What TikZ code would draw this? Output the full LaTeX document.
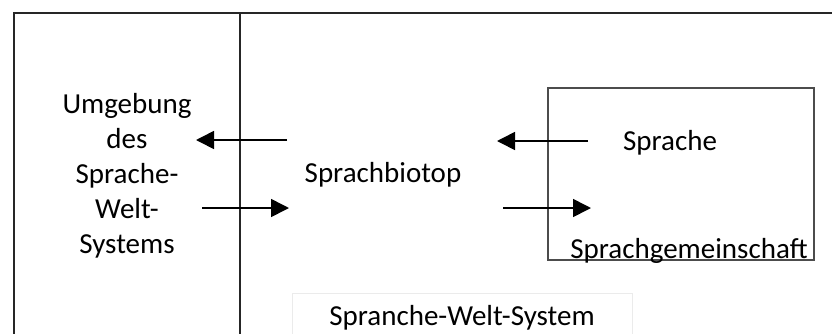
\documentclass[tikz,border=0pt]{standalone}
\usepackage{fontspec}
\setmainfont{Carlito}
\usetikzlibrary{arrows.meta}
\tikzset{
  lbl/.style={font=\fontsize{29}{35}\selectfont,inner sep=0pt,align=center},
  arr/.style={line width=1.6pt,-{Triangle[length=18pt,width=18pt]}},
  frame/.style={draw=black!85,line width=1.2pt}
}
\begin{document}
\begin{tikzpicture}[x=1pt,y=-1pt]
  \useasboundingbox(0,0)rectangle(832,333);
  \clip(0,0)rectangle(832,333);
  % outer system and divider
  \draw[frame](14,13)rectangle(850,350);
  \draw[frame](240,13)--(240,350);
  % community box
  \draw[frame,draw=black!70](548,88)rectangle(814,260);
  \draw[draw=black!8,line width=1pt](292,293)rectangle(632,350);
  \node[lbl](umg)at(127,176){Umgebung\\des\\Sprache-\\Welt-\\Systems};
  \node[lbl](bio)at(383,175){Sprachbiotop};
  \node[lbl](spr)at(670,143){Sprache};
  \node[lbl,anchor=base](gem)at(689,258){Sprachgemeinschaft};
  \node[lbl,anchor=base](sys)at(462,325){Spranche-Welt-System};
  \coordinate(a1)at(287,140); \coordinate(a2)at(196,140);
  \coordinate(b1)at(202,208); \coordinate(b2)at(289,208);
  \coordinate(c1)at(588,141); \coordinate(c2)at(497,141);
  \coordinate(d1)at(503,208); \coordinate(d2)at(591,208);
  \foreach \s/\e in{a1/a2,b1/b2,c1/c2,d1/d2}{
    \draw[arr](\s)--(\e);
  }
\end{tikzpicture}
\end{document}
